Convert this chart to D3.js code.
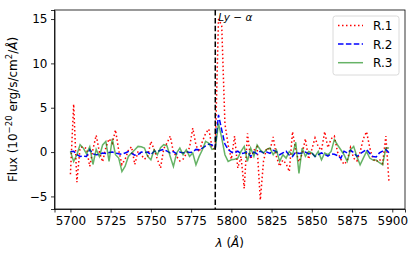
<!DOCTYPE html>
<html lang="en">
<head>
<meta charset="utf-8">
<title>Spectra</title>
<script src="https://d3js.org/d3.v7.min.js"></script>
<style>
  body { margin: 0; background: #fff; }
  text { font-family: "DejaVu Sans", sans-serif; fill: #000; }
  .tick text { font-size: 12px; }
  .domain { stroke: #000; stroke-width: 0.8; }
  .tick line { stroke: #000; stroke-width: 0.8; }
</style>
</head>
<body>
<div id="chart"></div>
<script>
// wavelength grid (Angstrom), 2 A steps
var wave = d3.range(5700, 5900, 2);

var r1 = [-2.5, 5.4, -3.4, 0.5, 0.6, 0.4, -1.6, 0.3, 1.9, 0.0,
  -1.1, 0.5, 1.5, 1.0, 2.5, 0.2, -1.4, -0.8, 0.2, 0.6,
  -1.4, 0.1, -0.3, -0.8, -0.5, 1.2, 0.3, -0.8, -1.8, 0.4,
  1.0, 1.8, 0.0, -0.5, -1.0, -0.8, -0.2, 0.5, 2.7, 0.8,
  0.0, 1.2, 2.1, 2.6, 0.5, 0.3, 15.0, 14.3, 3.2, 0.8,
  -0.8, 1.8, -1.8, -0.5, -4.1, 2.1, -0.8, 0.2, 0.6, -5.4,
  -1.0, 0.5, 0.2, 1.7, -0.5, -1.6, -0.9, -1.3, -2.2, 2.3,
  0.2, -1.1, -0.2, 1.5, -0.8, 0.3, 1.6, 0.6, 0.2, 2.3,
  0.5, 1.5, 1.8, 0.0, -0.8, -1.4, -1.0, 0.5, -0.7, -1.0,
  0.0, 1.5, 2.3, 0.5, -0.8, -1.1, -0.8, -1.3, 1.8, -3.5];

var r2 = [0.05, 0.1, -0.3, -0.5, -0.45, -0.5, 0.3, -0.2, -0.3, -0.25,
  -0.1, -0.15, -0.05, 0.0, -0.1, -0.2, -0.25, -0.1, 0.05, -0.15,
  -0.35, -0.3, 0.0, -0.05, 0.0, -0.3, 0.1, 0.05, 0.2, 0.3,
  0.1, -0.1, 0.05, -0.2, 0.0, -0.1, 0.05, -0.05, 0.0, 0.3,
  0.25, 0.45, 0.7, 0.9, 0.8, 0.45, 4.2, 2.5, 0.9, 0.3,
  0.0, -0.1, 0.1, -0.2, -0.1, 0.05, -0.5, 0.0, -0.2, 0.1,
  -0.1, 0.0, -0.15, 0.2, 0.05, -0.3, -0.1, 0.1, -0.35, -0.5,
  0.0, -0.15, -0.1, 0.0, -0.2, -0.1, -0.5, -0.3, -0.1, -0.25,
  -0.45, -0.2, -0.25, -0.4, -0.7, 0.1, -0.1, 0.2, -0.05, -0.5,
  -0.2, 0.05, 0.3, -0.15, -0.5, -0.55, -0.1, 0.1, 0.3, -0.1];

var r3 = [0.07, -1.05, -0.3, 0.83, 0.45, -0.2, 0.6, -1.4, 0.3, -0.5,
  0.8, 1.2, -1.05, 1.5, -0.3, -0.68, -2.2, -1.6, -0.5, -0.1,
  0.26, 0.64, 0.6, 0.45, -0.49, -0.87, 0.26, -0.3, 0.5, 0.83,
  0.7, -0.49, -1.62, -0.1, 0.45, -0.3, 0.26, -0.49, -0.1, -1.43,
  -0.49, 0.26, 1.2, 1.0, 0.3, 0.4, 3.2, 1.6, -0.3, -1.05,
  -0.87, -0.8, -0.68, 0.07, 0.64, -1.05, 0.45, -0.49, 0.8, 0.26,
  -0.1, 0.3, 0.45, -0.3, 0.26, -1.05, -0.3, -0.68, 0.07, -0.3,
  1.1, -2.4, 0.45, -0.49, 0.07, -0.1, -0.49, 0.07, -0.87, -0.1,
  -0.3, 0.07, 1.4, 0.8, 0.26, -0.3, -1.05, 0.26, 0.64, -0.49,
  -1.43, -0.68, 0.07, -0.68, -0.9, -0.9, -1.2, -1.43, 0.45, 0.45];

var seriesNames = ["R.1", "R.2", "R.3"];
var lyaWave = 5790;
var xTicks = [5700, 5725, 5750, 5775, 5800, 5825, 5850, 5875, 5900];
var yTicks = [-5, 0, 5, 10, 15];

var w = 415, h = 257;
var m = {left: 54.5, right: 10, top: 10, bottom: 48};

var svg = d3.select("#chart").append("svg")
  .attr("width", w).attr("height", h);

// matplotlib style 5% margins
var xe = d3.extent(wave), xp = (xe[1] - xe[0]) * 0.05;
var all = r1.concat(r2, r3);
var ye = d3.extent(all), yp = (ye[1] - ye[0]) * 0.05;

var x = d3.scaleLinear().domain([xe[0] - xp, xe[1] + xp]).range([m.left, w - m.right]);
var y = d3.scaleLinear().domain([ye[0] - yp, ye[1] + yp]).range([h - m.bottom, m.top]);

var styles = [
  {color: "#ff0000", dash: "1.5,2.5", width: 1.5, opacity: 1},
  {color: "#0000ff", dash: "5.5,2.4", width: 1.5, opacity: 1},
  {color: "#008000", dash: null, width: 1.5, opacity: 0.6}
];

var line = d3.line()
  .x(function(d, i) { return x(wave[i]); })
  .y(function(d) { return y(d); });

var g = svg.append("g");
[r1, r2, r3].forEach(function(s, k) {
  g.append("path")
    .datum(s)
    .attr("fill", "none")
    .attr("stroke", styles[k].color)
    .attr("stroke-width", styles[k].width)
    .attr("stroke-dasharray", styles[k].dash)
    .attr("stroke-opacity", styles[k].opacity)
    .attr("d", line);
});

// Ly-alpha marker
svg.append("line")
  .attr("x1", x(lyaWave)).attr("x2", x(lyaWave))
  .attr("y1", m.top).attr("y2", h - m.bottom)
  .attr("stroke", "#000").attr("stroke-width", 1.5)
  .attr("stroke-dasharray", "5.5,2.4");

var lab = svg.append("text")
  .attr("x", x(lyaWave) + 3).attr("y", m.top + 10.5)
  .style("font-size", "10.5px").style("font-style", "italic");
lab.append("tspan").text("Ly");
lab.append("tspan").style("font-style", "normal").text(" \u2212 ");
lab.append("tspan").text("\u03b1");

// axes
svg.append("g")
  .attr("transform", "translate(0," + (h - m.bottom) + ")")
  .call(d3.axisBottom(x).tickValues(xTicks).tickSize(3.5).tickPadding(3.5)
    .tickFormat(d3.format("d")));
svg.append("g")
  .attr("transform", "translate(" + m.left + ",0)")
  .call(d3.axisLeft(y).tickValues(yTicks).tickSize(3.5).tickPadding(3.5)
    .tickFormat(function(d) { return d < 0 ? "\u2212" + Math.abs(d) : d; }));

// frame top/right
svg.append("rect")
  .attr("x", m.left).attr("y", m.top)
  .attr("width", w - m.right - m.left).attr("height", h - m.bottom - m.top)
  .attr("fill", "none").attr("stroke", "#000").attr("stroke-width", 0.8);

// axis labels
var xl = svg.append("text")
  .attr("x", (m.left + w - m.right) / 2).attr("y", 247)
  .attr("text-anchor", "middle").style("font-size", "12px");
xl.append("tspan").style("font-style", "italic").text("\u03bb");
xl.append("tspan").text(" (");
xl.append("tspan").style("font-style", "italic").text("\u00c5");
xl.append("tspan").text(")");

var yl = svg.append("text")
  .attr("transform", "translate(17," + ((m.top + h - m.bottom) / 2) + ") rotate(-90)")
  .attr("text-anchor", "middle").style("font-size", "12px");
yl.append("tspan").text("Flux (10");
yl.append("tspan").attr("dy", -5).style("font-size", "8.5px").text("\u221220");
yl.append("tspan").attr("dy", 5).text(" erg/s/cm");
yl.append("tspan").attr("dy", -5).style("font-size", "8.5px").text("2");
yl.append("tspan").attr("dy", 5).text("/");
yl.append("tspan").style("font-style", "italic").text("\u00c5");
yl.append("tspan").text(")");

// legend
var lg = svg.append("g").attr("transform", "translate(333,16)");
lg.append("rect")
  .attr("width", 66).attr("height", 59).attr("rx", 2.5)
  .attr("fill", "#fff").attr("fill-opacity", 0.8)
  .attr("stroke", "#d0d0d0").attr("stroke-width", 0.8);
seriesNames.forEach(function(name, k) {
  var yy = 9.5 + k * 18.6;
  lg.append("line")
    .attr("x1", 5).attr("x2", 30).attr("y1", yy).attr("y2", yy)
    .attr("stroke", styles[k].color)
    .attr("stroke-width", styles[k].width)
    .attr("stroke-dasharray", styles[k].dash)
    .attr("stroke-opacity", styles[k].opacity);
  lg.append("text")
    .attr("x", 40).attr("y", yy + 4.5)
    .style("font-size", "12px").text(name);
});
</script>
</body>
</html>
